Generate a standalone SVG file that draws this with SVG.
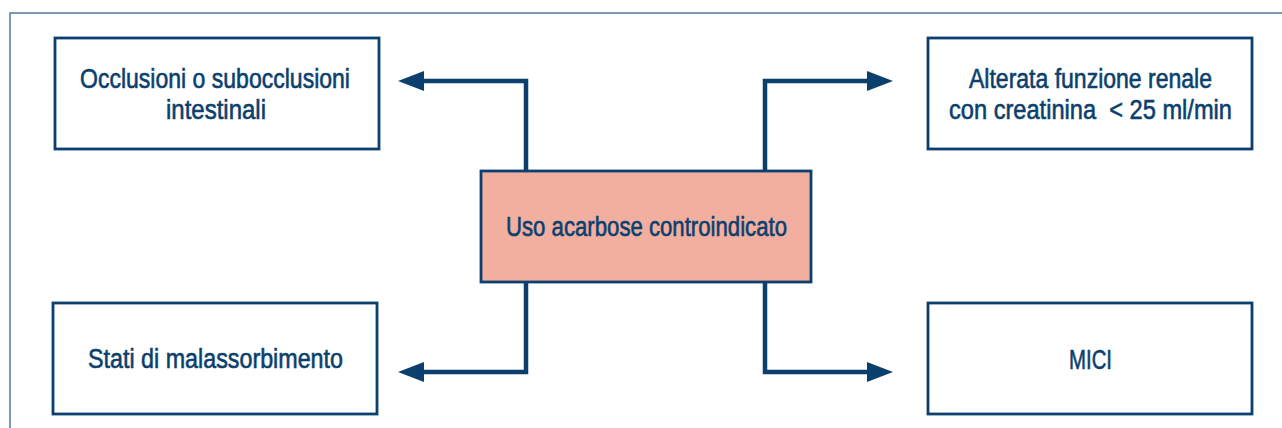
<svg xmlns="http://www.w3.org/2000/svg" width="1282" height="428" viewBox="0 0 1282 428">
<style>
.box{fill:#ffffff;stroke:#0b3f6e;stroke-width:2.8}
.center{fill:#f2ae9e;stroke:#0b3f6e;stroke-width:2.8}
.lbl{font-family:"Liberation Sans","Arial",sans-serif;font-size:27px;fill:#0b3f6e;stroke:#0b3f6e;stroke-width:0.6;text-anchor:start;white-space:pre}
.conn{fill:none;stroke:#0b3f6e;stroke-width:4.5}
.head{fill:#0b3f6e}
</style>
<rect width="1282" height="428" fill="#ffffff"/>
<rect x="10" y="13" width="1290" height="430" fill="none" stroke="#4f77a0" stroke-width="1.5"/>
<g id="connectors">
<path class="conn" d="M526,171 V81 H420"/>
<polygon class="head" points="398,81 424,71 424,91"/>
<path class="conn" d="M765,171 V81 H871"/>
<polygon class="head" points="893,81 867,71 867,91"/>
<path class="conn" d="M526,282 V372 H420"/>
<polygon class="head" points="398,372 424,362 424,382"/>
<path class="conn" d="M765,282 V372 H871"/>
<polygon class="head" points="893,372 867,362 867,382"/>
</g>
<g id="node-center">
<rect class="center" x="481" y="171" width="330" height="111"/>
<text class="lbl" x="506" y="236" textLength="281" lengthAdjust="spacingAndGlyphs">Uso acarbose controindicato</text>
</g>
<g id="node-occlusioni">
<rect class="box" x="55" y="38" width="324" height="111"/>
<text class="lbl" x="80" y="88" textLength="270" lengthAdjust="spacingAndGlyphs">Occlusioni o subocclusioni</text>
<text class="lbl" x="166" y="119" textLength="100" lengthAdjust="spacingAndGlyphs">intestinali</text>
</g>
<g id="node-renale">
<rect class="box" x="928" y="38" width="324" height="111"/>
<text class="lbl" x="969" y="88" textLength="243" lengthAdjust="spacingAndGlyphs">Alterata funzione renale</text>
<text class="lbl" x="949" y="119" textLength="283" lengthAdjust="spacingAndGlyphs" xml:space="preserve">con creatinina  &lt; 25 ml/min</text>
</g>
<g id="node-malassorbimento">
<rect class="box" x="53" y="303" width="324" height="111"/>
<text class="lbl" x="88" y="368" textLength="255" lengthAdjust="spacingAndGlyphs">Stati di malassorbimento</text>
</g>
<g id="node-mici">
<rect class="box" x="928" y="303" width="324" height="111"/>
<text class="lbl" x="1069" y="369" textLength="43" lengthAdjust="spacingAndGlyphs">MICI</text>
</g>
</svg>
